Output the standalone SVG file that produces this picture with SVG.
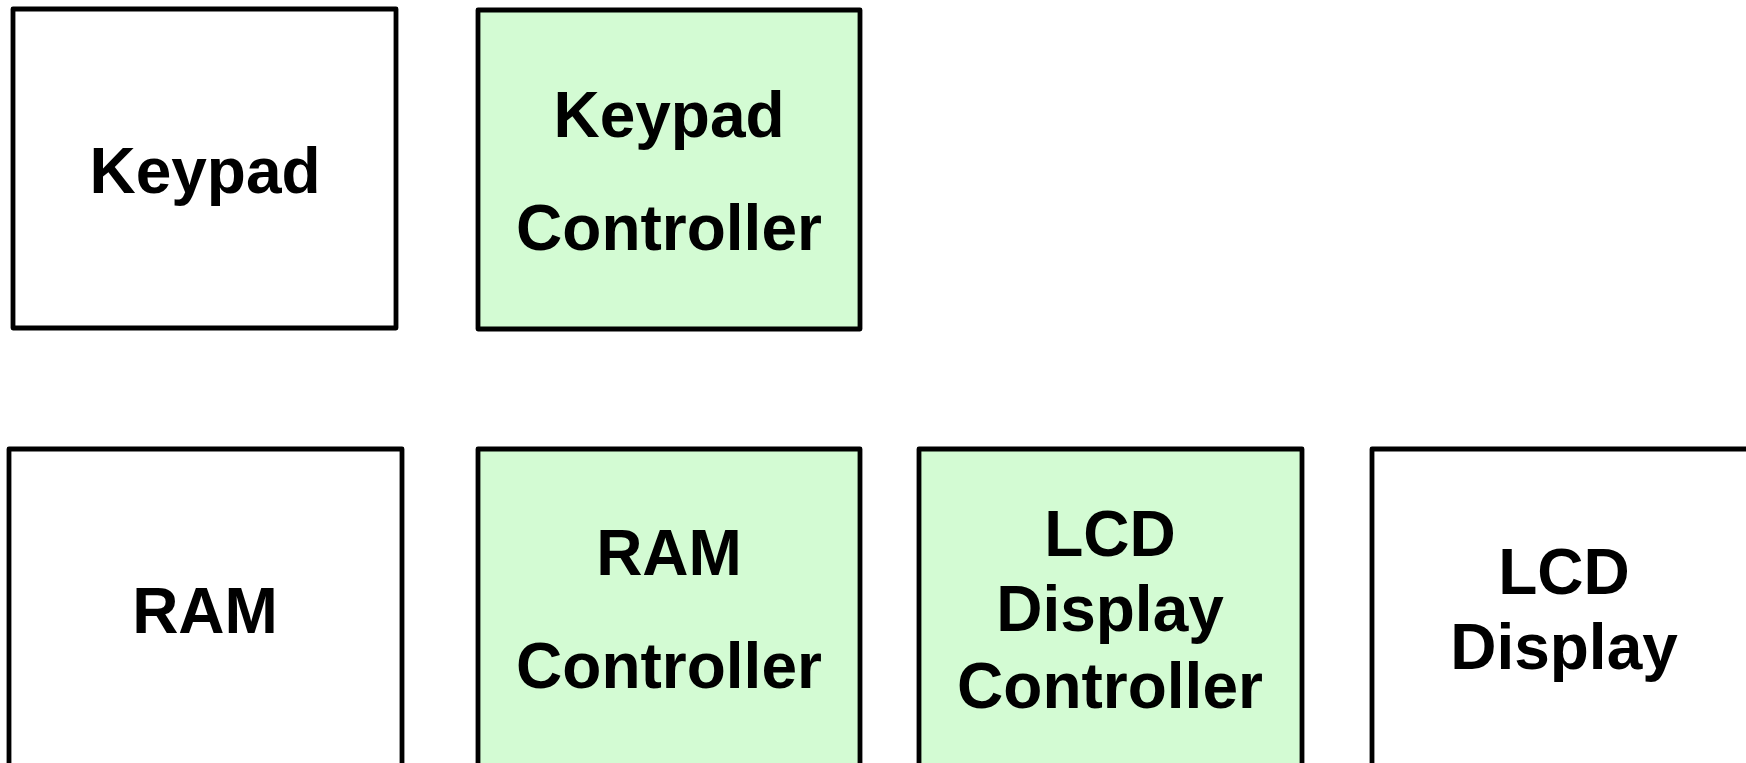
<svg xmlns="http://www.w3.org/2000/svg" width="1746" height="763" viewBox="0 0 1746 763">
  <style>
    .box { stroke: #000; stroke-width: 4.8; stroke-linejoin: round; }
    .plain { fill: #ffffff; }
    .ctrl { fill: #d3fbd3; }
    .lbl { font-family: "Liberation Sans", Arial, sans-serif; font-weight: bold; font-size: 64px; fill: #000; text-anchor: middle; }
  </style>
  <rect width="1746" height="763" fill="#ffffff"/>

  <g id="keypad">
    <rect class="box plain" x="13" y="9" width="383" height="319"/>
    <text class="lbl" x="205" y="193">Keypad</text>
  </g>

  <g id="keypad-controller">
    <rect class="box ctrl" x="478" y="10" width="382" height="319"/>
    <text class="lbl" x="669" y="137">Keypad</text>
    <text class="lbl" x="669" y="250">Controller</text>
  </g>

  <g id="ram">
    <rect class="box plain" x="9" y="449" width="393" height="330"/>
    <text class="lbl" x="205" y="633">RAM</text>
  </g>

  <g id="ram-controller">
    <rect class="box ctrl" x="478" y="449" width="382" height="330"/>
    <text class="lbl" x="669" y="575">RAM</text>
    <text class="lbl" x="669" y="688">Controller</text>
  </g>

  <g id="lcd-display-controller">
    <rect class="box ctrl" x="919" y="449" width="383" height="330"/>
    <text class="lbl" x="1110" y="556">LCD</text>
    <text class="lbl" x="1110" y="631">Display</text>
    <text class="lbl" x="1110" y="708">Controller</text>
  </g>

  <g id="lcd-display">
    <rect class="box plain" x="1372" y="449" width="383" height="330"/>
    <text class="lbl" x="1564" y="594">LCD</text>
    <text class="lbl" x="1564" y="669">Display</text>
  </g>

  <g id="connectors"></g>
</svg>
